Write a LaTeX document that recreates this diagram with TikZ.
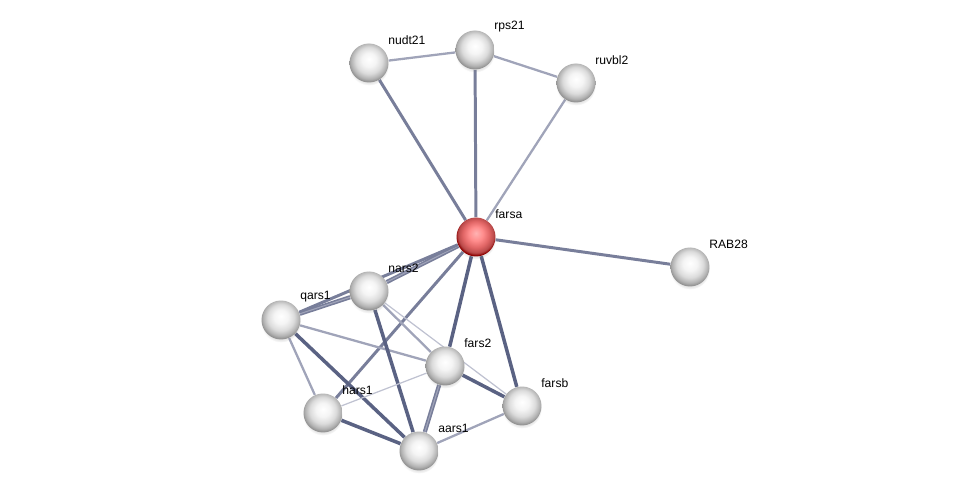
\documentclass[tikz,border=0pt]{standalone}
\usepackage{fontspec}
\setmainfont{Liberation Sans}
\usetikzlibrary{calc, backgrounds, shadows}
\definecolor{edgedark}{HTML}{5A6283}
\definecolor{edgemid}{HTML}{787E9A}
\definecolor{edgelight}{HTML}{A0A4B9}
\definecolor{edgepale}{HTML}{BFC2D1}
% sphere look of the nodes
\pgfdeclareradialshading{protball}{\pgfpoint{0bp}{5bp}}{color(0bp)=(white); color(9bp)=(white!96!black); color(17bp)=(white!86!black); color(23bp)=(white!70!black); color(26bp)=(white!58!black); color(50bp)=(white!58!black)}
\pgfdeclareradialshading{seedball}{\pgfpoint{0bp}{5bp}}{color(0bp)=(white!70!red); color(9bp)=(red!45!white); color(17bp)=(red!55!white!88!black); color(23bp)=(red!60!white!72!black); color(26bp)=(red!55!black); color(50bp)=(red!55!black)}

\begin{document}
\begin{tikzpicture}[x=0.02cm, y=-0.02cm,
  prot/.style={circle, inner sep=0pt, minimum size=0.78cm, shading=protball,
    circular drop shadow={opacity=0.2, shadow xshift=0pt, shadow yshift=-1.5pt, shadow scale=1.02}},
  seed/.style={prot, shading=seedball},
  lbl/.style={inner sep=0pt, font=\fontsize{6.9}{8}\selectfont},
  strong/.style={draw=edgedark, line width=2pt},
  mid/.style={draw=edgemid, line width=1.7pt},
  weak/.style={draw=edgelight, line width=1.3pt},
  faint/.style={draw=edgepale, line width=0.7pt},
  dbl/.style={draw=edgemid, line width=0.9pt, double=edgelight, double distance=0.6pt}]
  \useasboundingbox (0,0) rectangle (975,496);
  % proteins
  \node[prot] (nudt)  at (369,63)  {};
  \node[prot] (rps)   at (475,50)  {};
  \node[prot] (ruvbl) at (576,83)  {};
  \node[seed] (farsa) at (476,237) {};
  \node[prot] (rab)   at (690,267) {};
  \node[prot] (nars)  at (369,291) {};
  \node[prot] (qars)  at (281,320) {};
  \node[prot] (fars)  at (445,366) {};
  \node[prot] (farsb) at (522,406) {};
  \node[prot] (hars)  at (323,413) {};
  \node[prot] (aars)  at (419,451) {};
  % names
  \foreach \n/\t in {nudt/nudt21, rps/rps21, ruvbl/ruvbl2, farsa/farsa, rab/RAB28,
      nars/nars2, qars/qars1, fars/fars2, farsb/farsb, hars/hars1, aars/aars1}
    \node[lbl, anchor=west] (\n-l) at ($(\n)+(19,-23)$) {\t};
  % interactions
  \begin{pgfonlayer}{background}
    \draw[weak] (nudt) -- (rps);
    \draw[weak] (rps) -- (ruvbl);
    \draw[mid] (nudt) -- (farsa);
    \draw[mid] (rps) -- (farsa);
    \draw[weak] (ruvbl) -- (farsa);
    \draw[mid] (farsa) -- (rab);
    \draw[dbl] (farsa) -- (nars);
    \draw[mid] (farsa) -- (qars);
    \draw[mid] (farsa) -- (hars);
    \draw[strong] (farsa) -- (fars);
    \draw[strong] (farsa) -- (farsb);
    \draw[dbl] (qars) -- (nars);
    \draw[weak] (qars) -- (fars);
    \draw[weak] (qars) -- (hars);
    \draw[strong] (qars) -- (aars);
    \draw[strong] (nars) -- (aars);
    \draw[weak] (nars) -- (fars);
    \draw[faint] (nars) -- (farsb);
    \draw[faint] (hars) -- (fars);
    \draw[strong] (hars) -- (aars);
    \draw[dbl] (fars) -- (aars);
    \draw[strong] (fars) -- (farsb);
    \draw[weak] (aars) -- (farsb);
  \end{pgfonlayer}
\end{tikzpicture}
\end{document}
